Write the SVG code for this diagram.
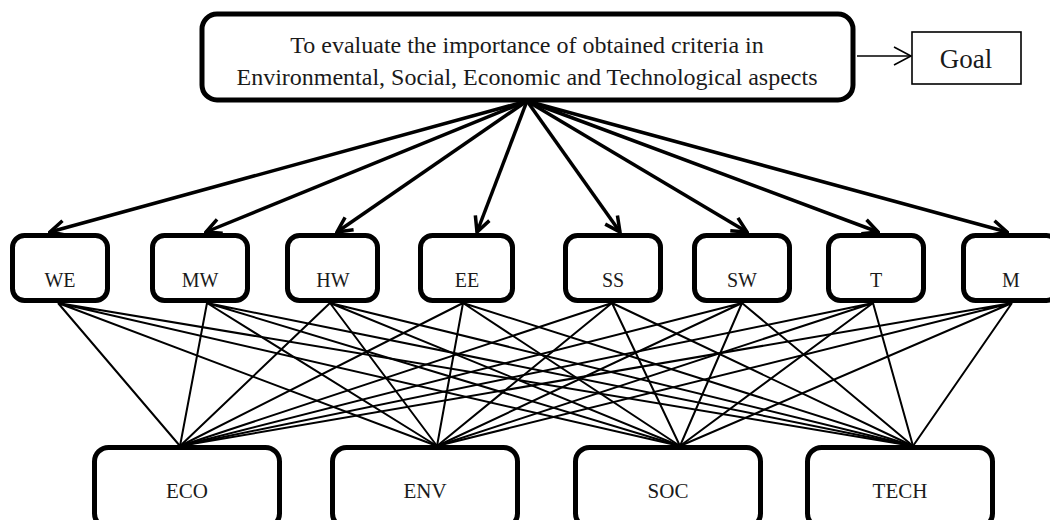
<svg xmlns="http://www.w3.org/2000/svg" width="1050" height="520" viewBox="0 0 1050 520">
<defs>
<style>
.box{fill:#fff;stroke:#000;stroke-width:5}
.lbl{font-family:"Liberation Serif","Times New Roman",serif;font-size:20px;fill:#1a1a1a;text-anchor:middle}
.big{font-size:24px}
.arr{stroke:#000;stroke-width:3.5;fill:none;marker-end:url(#vh)}
.ln{stroke:#000;stroke-width:2;fill:none}
</style>
<marker id="vh" viewBox="-18 -10 20 20" markerWidth="20" markerHeight="20" refX="0" refY="0" orient="auto" markerUnits="userSpaceOnUse">
<path d="M-15,-7.5 L0,0 L-15,7.5" fill="none" stroke="#000" stroke-width="3.5" stroke-linejoin="miter"/>
</marker>
<marker id="vs" viewBox="-20 -10 22 20" markerWidth="22" markerHeight="20" refX="0" refY="0" orient="auto" markerUnits="userSpaceOnUse">
<path d="M-17,-9 L0,0 L-17,9" fill="none" stroke="#000" stroke-width="1.6"/>
</marker>
</defs>
<rect width="1050" height="520" fill="#fff"/>
<g id="connectors">
<line class="arr" x1="527" y1="101" x2="50" y2="232"/>
<line class="arr" x1="527" y1="101" x2="206" y2="232"/>
<line class="arr" x1="527" y1="101" x2="337" y2="232"/>
<line class="arr" x1="527" y1="101" x2="477" y2="232"/>
<line class="arr" x1="527" y1="101" x2="620" y2="232"/>
<line class="arr" x1="527" y1="101" x2="747" y2="232"/>
<line class="arr" x1="527" y1="101" x2="878" y2="232"/>
<line class="arr" x1="527" y1="101" x2="1007" y2="232"/>
<line x1="857" y1="56" x2="911" y2="56" stroke="#000" stroke-width="1.6" marker-end="url(#vs)"/>
<g class="ln">
<path d="M58,303L180,446M58,303L437,446M58,303L680,446M58,303L913,446"/>
<path d="M207,303L180,446M207,303L437,446M207,303L680,446M207,303L913,446"/>
<path d="M330,303L180,446M330,303L437,446M330,303L680,446M330,303L913,446"/>
<path d="M463,303L180,446M463,303L437,446M463,303L680,446M463,303L913,446"/>
<path d="M612,303L180,446M612,303L437,446M612,303L680,446M612,303L913,446"/>
<path d="M742,303L180,446M742,303L437,446M742,303L680,446M742,303L913,446"/>
<path d="M873,303L180,446M873,303L437,446M873,303L680,446M873,303L913,446"/>
<path d="M1012,303L180,446M1012,303L437,446M1012,303L680,446M1012,303L913,446"/>
</g>
</g>
<g id="goal-main">
<rect class="box" x="202" y="14" width="651" height="86" rx="15"/>
<text class="lbl big" x="527" y="53">To evaluate the importance of obtained criteria in</text>
<text class="lbl big" x="527" y="85">Environmental, Social, Economic and Technological aspects</text>
</g>
<g id="goal-label">
<rect x="912" y="32" width="109" height="52" fill="#fff" stroke="#000" stroke-width="1.6"/>
<text class="lbl" x="966" y="68" style="font-size:27px">Goal</text>
</g>
<g id="WE"><rect class="box" x="12.5" y="235.5" width="95" height="65" rx="12"/><text class="lbl" x="60" y="287">WE</text></g>
<g id="MW"><rect class="box" x="152.5" y="235.5" width="95" height="65" rx="12"/><text class="lbl" x="200" y="287">MW</text></g>
<g id="HW"><rect class="box" x="287.5" y="235.5" width="90" height="65" rx="12"/><text class="lbl" x="333" y="287">HW</text></g>
<g id="EE"><rect class="box" x="420.5" y="235.5" width="92" height="65" rx="12"/><text class="lbl" x="467" y="287">EE</text></g>
<g id="SS"><rect class="box" x="565.5" y="235.5" width="95" height="65" rx="12"/><text class="lbl" x="613" y="287">SS</text></g>
<g id="SW"><rect class="box" x="694.5" y="235.5" width="95" height="65" rx="12"/><text class="lbl" x="742" y="287">SW</text></g>
<g id="T"><rect class="box" x="828.5" y="235.5" width="95" height="65" rx="12"/><text class="lbl" x="876" y="287">T</text></g>
<g id="M"><rect class="box" x="963.5" y="235.5" width="95" height="65" rx="12"/><text class="lbl" x="1011" y="287">M</text></g>
<g id="ECO"><rect class="box" x="94.5" y="447.5" width="185" height="80" rx="14"/><text class="lbl" x="187" y="498" style="font-size:21px">ECO</text></g>
<g id="ENV"><rect class="box" x="332.5" y="447.5" width="185" height="80" rx="14"/><text class="lbl" x="425" y="498" style="font-size:21px">ENV</text></g>
<g id="SOC"><rect class="box" x="575.5" y="447.5" width="185" height="80" rx="14"/><text class="lbl" x="668" y="498" style="font-size:21px">SOC</text></g>
<g id="TECH"><rect class="box" x="807.5" y="447.5" width="185" height="80" rx="14"/><text class="lbl" x="900" y="498" style="font-size:21px">TECH</text></g>
</svg>
